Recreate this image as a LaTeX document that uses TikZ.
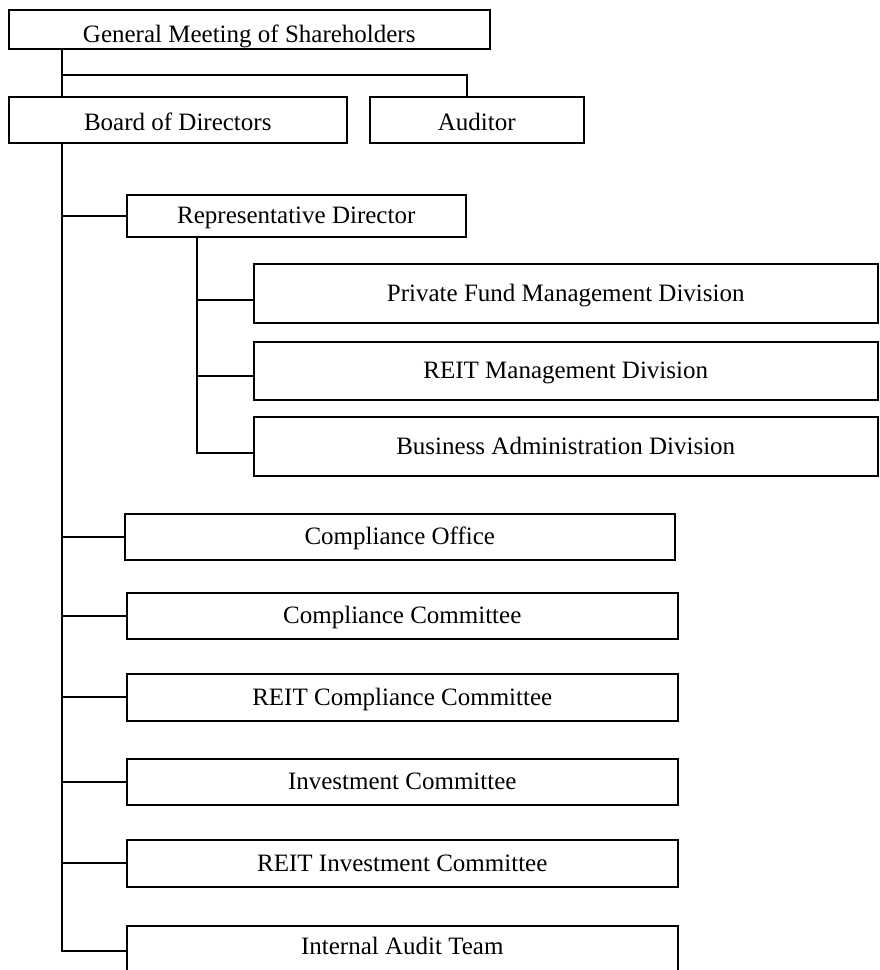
\documentclass[tikz,border=0pt]{standalone}
\usepackage{fontspec}
\setmainfont{Liberation Serif}
\begin{document}
\begin{tikzpicture}[x=1pt,y=-1pt,
  box/.style={draw,line width=1.5pt,anchor=north west,inner sep=0pt,font=\fontsize{25}{27}\selectfont,text height=17pt,text depth=1pt},
  link/.style={line width=1.6pt}]
\useasboundingbox (0,0) rectangle (879,970);
\clip (0,0) rectangle (879,970);
\node[box,minimum width=481pt,minimum height=39pt] (gms) at (8,9) {\raisebox{-5pt}{General Meeting of Shareholders}};
\node[box,minimum width=338pt,minimum height=46pt] (board) at (8,96) {\raisebox{-3pt}{Board of Directors}};
\node[box,minimum width=214pt,minimum height=46pt] (aud) at (369,96) {\raisebox{-3pt}{Auditor}};
\node[box,minimum width=339pt,minimum height=42pt] (rep) at (126,194) {Representative Director};
\node[box,minimum width=624pt,minimum height=59pt] (pf) at (253,263) {Private Fund Management Division};
\node[box,minimum width=624pt,minimum height=58pt] (reit) at (253,341) {REIT Management Division};
\node[box,minimum width=624pt,minimum height=59pt] (ba) at (253,416) {Business Administration Division};
\node[box,minimum width=550pt,minimum height=46pt] (co) at (124,513) {Compliance Office};
\node[box,minimum width=551pt,minimum height=46pt] (cc) at (126,592) {Compliance Committee};
\node[box,minimum width=551pt,minimum height=47pt] (rcc) at (126,673) {REIT Compliance Committee};
\node[box,minimum width=551pt,minimum height=46pt] (ic) at (126,758) {Investment Committee};
\node[box,minimum width=551pt,minimum height=47pt] (ric) at (126,839) {REIT Investment Committee};
\node[box,minimum width=551pt,minimum height=60pt,text depth=20pt] (iat) at (126,925) {Internal Audit Team};
\coordinate (t) at (62,0);
\coordinate (a) at (467,75);
\coordinate (s) at (197,0);
\coordinate (b1) at (0,300);
\coordinate (b2) at (0,376);
\coordinate (b3) at (0,453);
\coordinate (b4) at (0,951);
\draw[link] (t |- gms.south) -- (t |- board.north);
\draw[link] (t |- a) -- (a) -- (a |- aud.north);
\draw[link] (t |- board.south) -- (t |- b4) -- (iat.west |- b4);
\draw[link] (t |- rep.west) -- (rep.west);
\foreach \n in {co,cc,rcc,ic,ric} \draw[link] (t |- \n.west) -- (\n.west);
\draw[link] (s |- rep.south) -- (s |- b3) -- (ba.west |- b3);
\draw[link] (s |- b1) -- (pf.west |- b1);
\draw[link] (s |- b2) -- (reit.west |- b2);
\end{tikzpicture}
\end{document}
